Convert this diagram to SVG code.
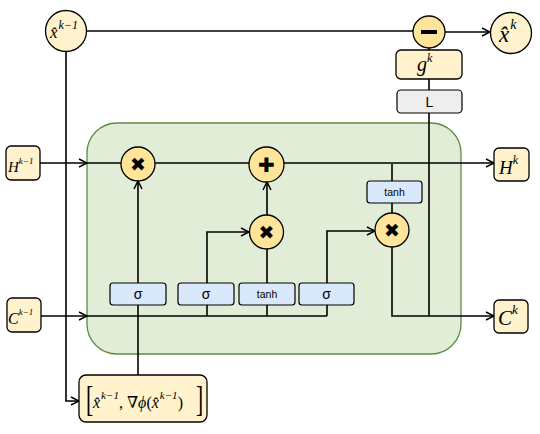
<svg xmlns="http://www.w3.org/2000/svg" width="540" height="434" viewBox="0 0 540 434">
<defs>
<marker id="arr" markerWidth="10" markerHeight="10" refX="9" refY="5" orient="auto" markerUnits="userSpaceOnUse">
<path d="M1,1 L9,5 L1,9" fill="none" stroke="#000" stroke-width="1.5"/>
</marker>
<style>
.ln{fill:none;stroke:#000;stroke-width:1.6}
.io{fill:#fff2cc;stroke:#000;stroke-width:1.3}
.op{fill:#ffe599;stroke:#000;stroke-width:1.3}
.gate{fill:#dae8fc;stroke:#000;stroke-width:1.2}
.m{font-family:"Liberation Serif","DejaVu Serif",serif;font-style:italic;fill:#000}
.r{font-family:"Liberation Serif","DejaVu Serif",serif;font-style:normal;fill:#000}
.s{font-family:"Liberation Sans",Arial,sans-serif;fill:#000;text-anchor:middle}
.sym{font-family:"DejaVu Sans",sans-serif;fill:#000;text-anchor:middle;font-weight:bold}
</style>
</defs>
<rect id="cell" x="87" y="123" width="374" height="231" rx="30" fill="#e1edd7" stroke="#5b8c3e" stroke-width="1.3"/>
<g id="connectors">
<path class="ln" d="M86,31 H413"/>
<path class="ln" d="M445,32 H490" marker-end="url(#arr)"/>
<path class="ln" d="M429,48 V50 M429,79 V90 M429,113 V316"/>
<path class="ln" d="M66,52 V401 H79" marker-end="url(#arr)"/>
<path class="ln" d="M40,163 H87" marker-end="url(#arr)"/>
<path class="ln" d="M87,163 H121 M155,163 H249"/>
<path class="ln" d="M284,163 H494" marker-end="url(#arr)"/>
<path class="ln" d="M41,316 H87" marker-end="url(#arr)"/>
<path class="ln" d="M87,316 H327"/>
<path class="ln" d="M138,375 V305"/>
<path class="ln" d="M138,283 V181" marker-end="url(#arr)"/>
<path class="ln" d="M207,316 V305 M267,316 V305 M327,316 V305"/>
<path class="ln" d="M207,283 V232 H249" marker-end="url(#arr)"/>
<path class="ln" d="M267,283 V249"/>
<path class="ln" d="M267,215 V182" marker-end="url(#arr)"/>
<path class="ln" d="M327,283 V231 H375" marker-end="url(#arr)"/>
<path class="ln" d="M392,164 V181 M392,203 V213"/>
<path class="ln" d="M392,247 V316 H494" marker-end="url(#arr)"/>
</g>
<g id="xprev">
<circle class="io" cx="66" cy="31" r="20.5"/>
<text class="m" x="50" y="38" font-size="17">x̂<tspan font-size="12" dx="1" dy="-9">k−1</tspan></text>
</g>
<g id="minus">
<circle class="op" cx="429" cy="32" r="16"/>
<rect x="421" y="30" width="16" height="4" fill="#000"/>
</g>
<g id="xk">
<circle class="io" cx="511" cy="33" r="20.5"/>
<text class="m" x="499" y="42" font-size="23">x̂<tspan font-size="14" dx="1" dy="-13">k</tspan></text>
</g>
<g id="gk">
<rect class="io" x="396" y="50" width="66" height="29" rx="5"/>
<text class="m" x="417" y="71" font-size="20">g<tspan font-size="12" dx="0" dy="-9">k</tspan></text>
</g>
<g id="L">
<rect x="397" y="90" width="65" height="23" rx="4" fill="#eeeeee" stroke="#000" stroke-width="1.2"/>
<text class="s" x="429.5" y="107" font-size="14">L</text>
</g>
<g id="Hprev">
<rect class="io" x="6" y="146" width="34" height="34" rx="5"/>
<text class="m" x="8" y="172" font-size="15">H<tspan font-size="9" dx="0" dy="-8">k−1</tspan></text>
</g>
<g id="Cprev">
<rect class="io" x="7" y="298" width="34" height="34" rx="5"/>
<text class="m" x="8" y="324" font-size="16">C<tspan font-size="9" dx="0" dy="-9">k−1</tspan></text>
</g>
<g id="Hk">
<rect class="io" x="494" y="148" width="35" height="33" rx="5"/>
<text class="m" x="499" y="174" font-size="19">H<tspan font-size="12" dx="0" dy="-10">k</tspan></text>
</g>
<g id="Ck">
<rect class="io" x="494" y="300" width="34" height="33" rx="5"/>
<text class="m" x="498" y="325" font-size="21">C<tspan font-size="13" dx="0" dy="-11">k</tspan></text>
</g>
<g id="mul1">
<circle class="op" cx="138" cy="164" r="17"/>
<text class="sym" x="138" y="171" font-size="19">✖</text>
</g>
<g id="plus">
<circle class="op" cx="266.5" cy="164.5" r="17.5"/>
<text class="sym" x="266.5" y="171.5" font-size="20">✚</text>
</g>
<g id="mul2">
<circle class="op" cx="266.5" cy="232" r="17"/>
<text class="sym" x="266.5" y="239" font-size="19">✖</text>
</g>
<g id="mul3">
<circle class="op" cx="392" cy="230" r="17"/>
<text class="sym" x="392" y="237" font-size="19">✖</text>
</g>
<g id="sig1">
<rect class="gate" x="110" y="283" width="56" height="22" rx="3"/>
<text class="s" x="138" y="299" font-size="14">σ</text>
</g>
<g id="sig2">
<rect class="gate" x="178" y="283" width="56" height="22" rx="3"/>
<text class="s" x="206" y="299" font-size="14">σ</text>
</g>
<g id="tanh1">
<rect class="gate" x="239" y="283" width="56" height="22" rx="3"/>
<text class="s" x="267" y="298" font-size="10.5">tanh</text>
</g>
<g id="sig3">
<rect class="gate" x="299" y="283" width="55" height="22" rx="3"/>
<text class="s" x="326.5" y="299" font-size="14">σ</text>
</g>
<g id="tanh2">
<rect class="gate" x="367" y="181" width="55" height="22" rx="3"/>
<text class="s" x="394.5" y="196" font-size="10.5">tanh</text>
</g>
<g id="input">
<rect class="io" x="79" y="375" width="128" height="47" rx="7"/>
<text class="r" x="0" y="0" font-size="36" transform="translate(86 411) scale(0.6 1)">[</text>
<text class="m" x="93" y="408" font-size="16">x̂<tspan font-size="11" dx="1" dy="-9">k−1</tspan><tspan class="r" style="font-style:normal" dy="9">, ∇</tspan><tspan>ϕ</tspan><tspan style="font-style:normal">(</tspan><tspan>x̂</tspan><tspan font-size="11" dx="1" dy="-9">k−1</tspan><tspan style="font-style:normal" dy="9">)</tspan></text>
<text class="r" x="0" y="0" font-size="36" transform="translate(196 411) scale(0.6 1)">]</text>
</g>
</svg>
